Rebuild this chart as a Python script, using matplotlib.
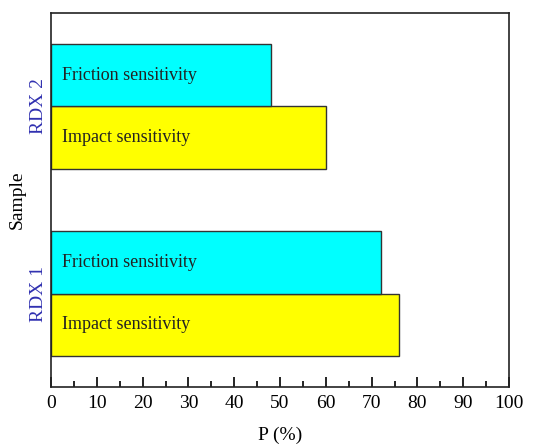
import matplotlib
matplotlib.use("Agg")
import matplotlib.pyplot as plt
from matplotlib.ticker import MultipleLocator

samples = ["RDX 1", "RDX 2"]
impact = [76, 60]
friction = [72, 48]
bar_labels = ["Impact sensitivity", "Friction sensitivity"]
colors = ["#ffff00", "#00ffff"]

plt.rcParams['font.family'] = ['Liberation Serif', 'DejaVu Serif']

fig = plt.figure(figsize=(5.44, 4.44), dpi=100)
ax = fig.add_axes([51/544, 1 - 387/444, (509-51)/544, (387-13)/444])

group_pos = [0, 3]
for i, g in enumerate(group_pos):
    for j, (vals, lab) in enumerate([(impact, bar_labels[0]), (friction, bar_labels[1])]):
        y = g + j
        ax.barh(y, vals[i], height=1.0, color=colors[j], edgecolor="#333333", linewidth=1.0)
        ax.text(2.3, y, lab, va="center", ha="left", fontsize=13, color="#222222")

ax.set_xlim(0, 100)
ax.set_ylim(-1.0, 5.0)
ax.xaxis.set_major_locator(MultipleLocator(10))
ax.xaxis.set_minor_locator(MultipleLocator(5))
ax.tick_params(axis="x", which="major", direction="in", length=7, width=1.2, labelsize=14, pad=6)
ax.tick_params(axis="x", which="minor", direction="in", length=4.5, width=1.2)
ax.set_yticks([g + 0.5 for g in group_pos])
ax.set_yticklabels(samples, rotation=90, va="center", fontsize=14, color="#3030b0")
ax.tick_params(axis="y", which="both", length=0, pad=3)
for s in ax.spines.values():
    s.set_linewidth(1.2)
    s.set_color("#222222")
ax.set_xlabel("P (%)", fontsize=14)
ax.set_ylabel("Sample", fontsize=14)
ax.xaxis.set_label_coords(0.5, -0.105)
ax.yaxis.set_label_coords(-0.055, 0.5)

fig.savefig("out.png", dpi=100)
